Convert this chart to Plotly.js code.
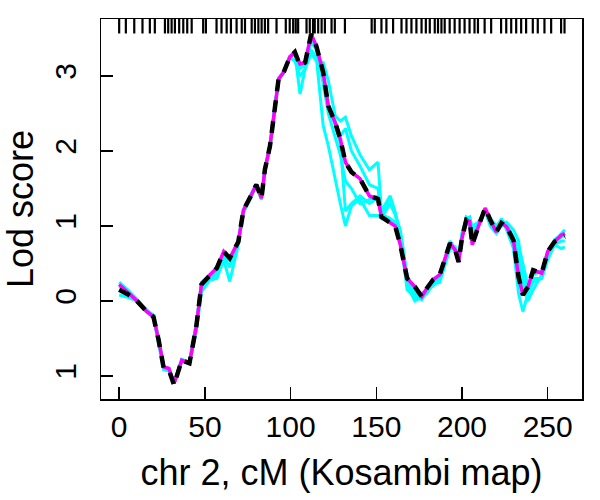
<!DOCTYPE html>
<html>
<head>
<meta charset="utf-8">
<script src="https://cdn.plot.ly/plotly-3.0.1.min.js"></script>
<style>
  html, body { margin: 0; padding: 0; background: #fff; }
  #plot { width: 600px; height: 500px; }
</style>
</head>
<body>
<div id="plot"></div>
<script>
// positions along chr 2 (cM)
var pos = [0, 5, 10, 16, 20, 23, 26, 29, 32, 36.5, 41, 45, 48, 53, 57, 61, 64.5, 69.5, 72.5, 77,
  80, 83, 85, 88, 92, 93, 96, 99.5, 102.5, 105.5, 108.5, 112, 115, 119, 122, 126, 129, 132, 135.5, 140.5,
  146, 151, 153, 158, 161, 164, 166, 168, 172.5, 176.5, 179.5, 183, 187, 193, 196, 198, 200, 202.5, 204.5, 206,
  209.5, 213.5, 216.5, 220, 223, 226, 230, 233, 235.5, 238.5, 241.5, 246.5, 250, 254, 258, 260];

// black dashed curve
var lodMain = [0.15, 0.09, 0.01, -0.14, -0.21, -0.52, -0.90, -0.92, -1.12, -0.79, -0.83, -0.34, 0.22, 0.35, 0.44, 0.66, 0.57, 0.79, 1.21, 1.41,
  1.55, 1.37, 1.75, 2.07, 2.74, 2.96, 3.05, 3.25, 3.32, 3.14, 3.18, 3.56, 3.40, 3.05, 2.60, 2.38, 2.16, 1.85, 1.72, 1.63,
  1.40, 1.36, 1.12, 1.05, 1.00, 0.75, 0.50, 0.30, 0.19, 0.06, 0.17, 0.28, 0.35, 0.77, 0.68, 0.52, 0.84, 1.08, 1.06, 0.75,
  0.99, 1.24, 1.08, 0.92, 1.04, 0.99, 0.81, 0.32, 0.08, 0.19, 0.41, 0.37, 0.66, 0.79, 0.84, 0.86];

// magenta curve
var lodMag = [0.22, 0.12, 0.01, -0.14, -0.21, -0.52, -0.88, -0.90, -1.10, -0.79, -0.83, -0.34, 0.22, 0.35, 0.44, 0.66, 0.57, 0.79, 1.21, 1.41,
  1.55, 1.37, 1.75, 2.07, 2.74, 2.96, 3.05, 3.25, 3.32, 3.16, 3.18, 3.56, 3.40, 3.05, 2.60, 2.38, 2.16, 1.85, 1.72, 1.63,
  1.40, 1.36, 1.12, 1.05, 1.00, 0.75, 0.50, 0.30, 0.19, 0.06, 0.17, 0.28, 0.35, 0.77, 0.68, 0.52, 0.84, 1.08, 1.06, 0.75,
  0.99, 1.24, 1.08, 0.92, 1.04, 0.99, 0.81, 0.32, 0.08, 0.19, 0.41, 0.37, 0.66, 0.79, 0.88, 0.90];

// cyan curves
var lodC1 = [0.25, 0.15, 0.03, -0.12, -0.20, -0.50, -0.88, -0.90, -1.10, -0.78, -0.82, -0.30, 0.20, 0.30, 0.40, 0.62, 0.55, 0.78, 1.20, 1.40,
  1.53, 1.38, 1.73, 2.05, 2.72, 2.95, 3.05, 3.24, 3.30, 2.76, 3.10, 3.30, 3.20, 3.18, 2.94, 2.47, 2.40, 2.45, 2.20, 1.95,
  1.75, 1.85, 1.20, 1.40, 1.18, 0.90, 0.60, 0.35, 0.10, 0.02, 0.12, 0.25, 0.30, 0.72, 0.70, 0.60, 0.90, 1.10, 1.12, 0.95,
  1.05, 1.20, 1.10, 1.00, 1.08, 1.00, 0.82, 0.75, 0.50, 0.20, 0.35, 0.40, 0.62, 0.80, 0.90, 0.95];
var lodC2 = [0.08, 0.05, 0.00, -0.15, -0.22, -0.55, -0.92, -0.93, -1.10, -0.80, -0.84, -0.40, 0.12, 0.28, 0.30, 0.55, 0.26, 0.75, 1.18, 1.38,
  1.55, 1.35, 1.74, 2.06, 2.74, 2.95, 3.04, 3.25, 3.20, 3.00, 3.10, 3.35, 3.25, 2.34, 2.07, 1.60, 1.30, 1.00, 1.27, 1.36,
  1.14, 1.14, 1.10, 1.40, 1.18, 0.85, 0.55, 0.20, 0.00, 0.05, 0.10, 0.22, 0.25, 0.70, 0.72, 0.55, 0.90, 1.10, 1.10, 0.85,
  1.00, 1.22, 1.05, 0.95, 1.10, 0.95, 0.70, 0.10, -0.14, 0.10, 0.30, 0.30, 0.60, 0.75, 0.70, 0.72];
var lodC3 = [0.20, 0.12, 0.02, -0.13, -0.21, -0.52, -0.90, -0.91, -1.10, -0.79, -0.82, -0.32, 0.18, 0.30, 0.35, 0.60, 0.45, 0.80, 1.20, 1.40,
  1.55, 1.36, 1.75, 2.07, 2.74, 2.96, 3.05, 3.25, 3.30, 3.10, 3.15, 3.45, 3.35, 2.90, 2.50, 2.20, 1.95, 1.60, 1.50, 1.30,
  1.35, 1.40, 1.15, 1.10, 1.05, 0.80, 0.50, 0.15, 0.05, 0.10, 0.15, 0.20, 0.30, 0.75, 0.66, 0.55, 0.85, 1.05, 1.00, 0.90,
  1.02, 1.20, 1.00, 0.90, 1.00, 1.05, 0.95, 0.80, 0.35, 0.10, 0.25, 0.30, 0.55, 0.75, 0.80, 0.80];
var lodC4 = [0.15, 0.10, 0.00, -0.14, -0.20, -0.50, -0.90, -0.92, -1.10, -0.80, -0.83, -0.35, 0.25, 0.35, 0.45, 0.65, 0.55, 0.78, 1.22, 1.42,
  1.56, 1.38, 1.76, 2.08, 2.75, 2.97, 3.06, 3.26, 3.32, 3.12, 3.18, 3.50, 3.38, 3.00, 2.60, 2.35, 2.10, 1.20, 1.30, 1.40,
  1.30, 1.38, 1.10, 1.30, 1.15, 0.95, 0.65, 0.30, 0.05, 0.02, 0.15, 0.30, 0.32, 0.80, 0.70, 0.60, 0.85, 1.12, 1.08, 1.00,
  1.05, 1.18, 1.10, 0.98, 1.08, 1.02, 0.85, 0.60, 0.25, 0.00, 0.15, 0.35, 0.60, 0.82, 0.88, 0.90];
var lodC5 = [0.22, 0.14, 0.03, -0.12, -0.19, -0.50, -0.88, -0.90, -1.10, -0.78, -0.82, -0.30, 0.22, 0.32, 0.42, 0.64, 0.57, 0.80, 1.22, 1.42,
  1.56, 1.38, 1.76, 2.08, 2.75, 2.97, 3.06, 3.26, 3.32, 3.15, 3.20, 3.55, 3.40, 3.05, 2.62, 2.40, 2.20, 2.30, 2.00, 1.80,
  1.55, 1.50, 1.15, 1.10, 1.02, 0.80, 0.52, 0.30, 0.15, 0.05, 0.15, 0.28, 0.33, 0.78, 0.68, 0.52, 0.85, 1.08, 1.06, 0.78,
  0.99, 1.22, 1.08, 0.94, 1.05, 1.00, 0.85, 0.50, 0.15, 0.12, 0.40, 0.38, 0.66, 0.80, 0.85, 0.88];

// marker positions (rug along the top)
var markers = [0, 3.9, 8.8, 13.6, 17.9, 20.8, 26.7, 28.6, 30.6, 32.5, 35, 37.4, 39.7, 42.3, 49, 50.6, 56.8, 59.7, 62.7, 65.2,
  68.5, 71.5, 73.4, 77.3, 79.2, 81.2, 83.1, 85, 86.9, 91.8, 97.2, 99.5, 101.5, 103, 104.4, 109.3, 111.2, 113.1, 114.1, 116.1,
  118.1, 120, 123.9, 125.8, 131.7, 147.3, 149.1, 153, 155.9, 159.8, 164.7, 167.6, 170.5, 173.4, 176.4, 178.9, 181.2, 184.1, 186, 188,
  189.9, 192.8, 195.7, 198.6, 201.5, 204.4, 207.3, 209.3, 213.2, 217, 222.8, 225.8, 228.7, 231.6, 234.5, 237.4, 241.3, 244.2, 248.1, 252,
  257.8, 259.8];

var xTicks = [0, 50, 100, 150, 200, 250];
var yTicks = [-1, 0, 1, 2, 3];
var yTickText = ['1', '0', '1', '2', '3'];
var yRange = [-1.307, 3.76];

var fontFam = 'Liberation Sans, Arial, Helvetica, sans-serif';

function cyan(y) {
  return {x: pos, y: y, type: 'scatter', mode: 'lines', hoverinfo: 'skip',
    line: {color: '#00ffff', width: 3}};
}

var data = [
  cyan(lodC1), cyan(lodC2), cyan(lodC3), cyan(lodC4), cyan(lodC5),
  {x: pos, y: lodMag, type: 'scatter', mode: 'lines', line: {color: '#ff00ff', width: 3.5}},
  {x: pos, y: lodMain, type: 'scatter', mode: 'lines', line: {color: '#000000', width: 4.5, dash: '12px,9px'}},
  {x: markers, y: markers.map(function () { return 0.984; }), yaxis: 'y2', type: 'scatter', mode: 'markers',
    marker: {symbol: 'line-ns', size: 12, color: '#000000', line: {color: '#000000', width: 2.2}}}
];

var layout = {
  width: 600, height: 500,
  margin: {l: 101, r: 18, t: 19, b: 101},
  paper_bgcolor: '#ffffff', plot_bgcolor: '#ffffff',
  showlegend: false,
  font: {family: fontFam, color: '#000000'},
  xaxis: {
    range: [-10.6, 270], tickvals: xTicks, ticks: 'inside', ticklen: 12, tickwidth: 1.5, tickcolor: '#000',
    showline: true, mirror: true, linewidth: 1.5, linecolor: '#000', showgrid: false, zeroline: false,
    tickfont: {size: 30},
    title: {text: 'chr 2, cM (Kosambi map)', font: {size: 36}, standoff: 18}
  },
  // labelled y axis: invisible outside ticks push the rotated labels away from the frame
  yaxis: {
    range: yRange, tickvals: yTicks, ticktext: yTickText, tickangle: -90,
    ticks: 'outside', ticklen: 12, tickcolor: 'rgba(0,0,0,0)',
    showline: true, mirror: true, linewidth: 1.5, linecolor: '#000', showgrid: false, zeroline: false,
    tickfont: {size: 30},
    title: {text: 'Lod score', font: {size: 36}, standoff: 5}
  },
  yaxis2: {overlaying: 'y', range: [0, 1], visible: false, fixedrange: true},
  // same scale, only carries the inside tick marks
  yaxis3: {overlaying: 'y', side: 'left', range: yRange, tickvals: yTicks, showticklabels: false,
    ticks: 'inside', ticklen: 12, tickwidth: 1.5, tickcolor: '#000',
    showline: false, showgrid: false, zeroline: false}
};

// a tiny empty trace so yaxis3 gets drawn
data.push({x: [], y: [], yaxis: 'y3', type: 'scatter', mode: 'lines', hoverinfo: 'skip'});

Plotly.newPlot('plot', data, layout, {staticPlot: true});
</script>
</body>
</html>
